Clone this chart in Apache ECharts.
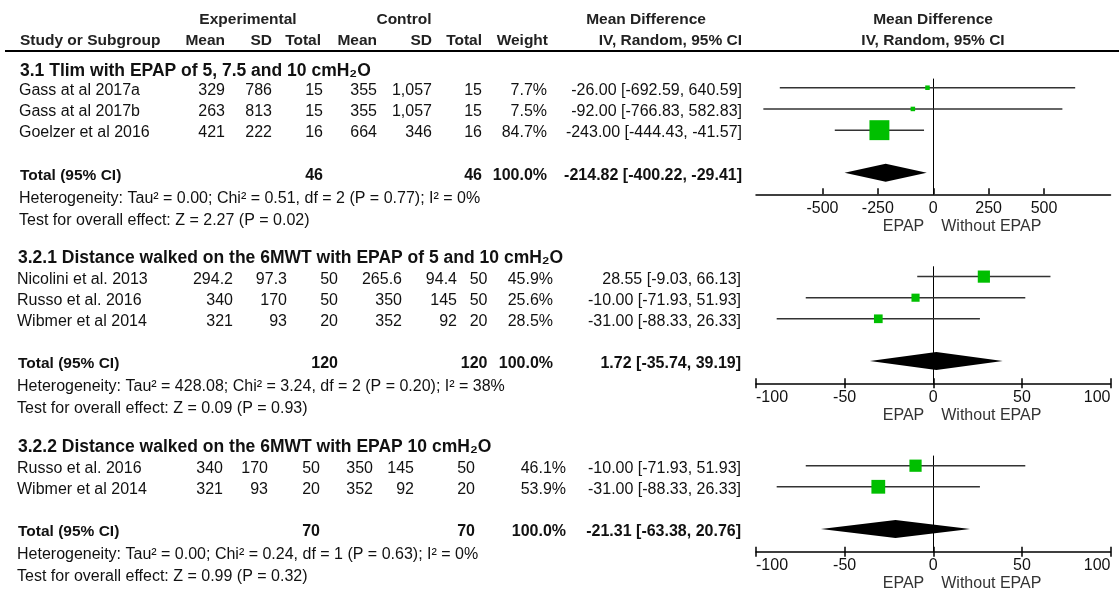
<!DOCTYPE html>
<html>
<head>
<meta charset="utf-8">
<script src="https://cdn.jsdelivr.net/npm/echarts@6/dist/echarts.min.js"></script>
<style>
html,body{margin:0;padding:0;background:#fff;}
#chart{width:1119px;height:590px;}
</style>
</head>
<body>
<div id="chart"></div>
<script>
// ---------------- data ----------------
const titles = [
  '3.1 Tlim with EPAP of 5, 7.5 and 10 cmH\u2082O',
  '3.2.1 Distance walked on the 6MWT with EPAP of 5 and 10 cmH\u2082O',
  '3.2.2 Distance walked on the 6MWT with EPAP 10 cmH\u2082O'
];
// 3.1
const studies1 = ['Gass at al 2017a', 'Gass at al 2017b', 'Goelzer et al 2016'];
const expMean1 = [329, 263, 421];
const expSD1 = [786, 813, 222];
const expN1 = [15, 15, 16];
const ctlMean1 = [355, 355, 664];
const ctlSD1 = [1057, 1057, 346];
const ctlN1 = [15, 15, 16];
const weight1 = [7.7, 7.5, 84.7];
const md1 = [-26.00, -92.00, -243.00];
const lo1 = [-692.59, -766.83, -444.43];
const hi1 = [640.59, 582.83, -41.57];
// 3.2.1
const studies2 = ['Nicolini et al. 2013', 'Russo et al. 2016', 'Wibmer et al 2014'];
const expMean2 = [294.2, 340, 321];
const expSD2 = [97.3, 170, 93];
const expN2 = [50, 50, 20];
const ctlMean2 = [265.6, 350, 352];
const ctlSD2 = [94.4, 145, 92];
const ctlN2 = [50, 50, 20];
const weight2 = [45.9, 25.6, 28.5];
const md2 = [28.55, -10.00, -31.00];
const lo2 = [-9.03, -71.93, -88.33];
const hi2 = [66.13, 51.93, 26.33];
// 3.2.2
const studies3 = ['Russo et al. 2016', 'Wibmer et al 2014'];
const expMean3 = [340, 321];
const expSD3 = [170, 93];
const expN3 = [50, 20];
const ctlMean3 = [350, 352];
const ctlSD3 = [145, 92];
const ctlN3 = [50, 20];
const weight3 = [46.1, 53.9];
const md3 = [-10.00, -31.00];
const lo3 = [-71.93, -88.33];
const hi3 = [51.93, 26.33];
// pooled totals (one per subgroup)
const totalExpN = [46, 120, 70];
const totalCtlN = [46, 120, 70];
const totalWeight = [100.0, 100.0, 100.0];
const totalMd = [-214.82, 1.72, -21.31];
const totalLo = [-400.22, -35.74, -63.38];
const totalHi = [-29.41, 39.19, 20.76];
const heterogeneity = [
  'Heterogeneity: Tau\u00b2 = 0.00; Chi\u00b2 = 0.51, df = 2 (P = 0.77); I\u00b2 = 0%',
  'Heterogeneity: Tau\u00b2 = 428.08; Chi\u00b2 = 3.24, df = 2 (P = 0.20); I\u00b2 = 38%',
  'Heterogeneity: Tau\u00b2 = 0.00; Chi\u00b2 = 0.24, df = 1 (P = 0.63); I\u00b2 = 0%'
];
const overallEffect = [
  'Test for overall effect: Z = 2.27 (P = 0.02)',
  'Test for overall effect: Z = 0.09 (P = 0.93)',
  'Test for overall effect: Z = 0.99 (P = 0.32)'
];
// axes
const axisRange1 = [-800, 800];
const tickLabels1 = [-500, -250, 0, 250, 500];
const axisRange23 = [-100, 100];
const tickStep23 = 50;
const favourLeft = 'EPAP';
const favourRight = 'Without EPAP';

// ---------------- assemble ----------------
const panels = [
  {studies: studies1, expMean: expMean1, expSD: expSD1, expN: expN1, ctlMean: ctlMean1, ctlSD: ctlSD1, ctlN: ctlN1, weight: weight1, md: md1, lo: lo1, hi: hi1},
  {studies: studies2, expMean: expMean2, expSD: expSD2, expN: expN2, ctlMean: ctlMean2, ctlSD: ctlSD2, ctlN: ctlN2, weight: weight2, md: md2, lo: lo2, hi: hi2},
  {studies: studies3, expMean: expMean3, expSD: expSD3, expN: expN3, ctlMean: ctlMean3, ctlSD: ctlSD3, ctlN: ctlN3, weight: weight3, md: md3, lo: lo3, hi: hi3}
];

// layout (pixels)
const FF = '"Liberation Sans", Arial, "DejaVu Sans", sans-serif';
const GRID_LEFT = 756, GRID_W = 354.5;
const layout = [
  {top: 79, axisY: 194.3, yMin: -0.41, yMax: 5.02, titleY: 71.5, nameX: 19, cols: [225, 272, 323, 377, 432, 482, 547], ciX: 742},
  {top: 266.7, axisY: 383.3, yMin: -0.47, yMax: 5.06, titleY: 258.5, nameX: 17, cols: [233, 287, 338, 402, 457, 487.5, 553], ciX: 741},
  {top: 456, axisY: 551.7, yMin: -0.46, yMax: 4.08, titleY: 447.5, nameX: 17, cols: [223, 268, 320, 373, 414, 475, 566], ciX: 741}
];
const GREEN = '#00bf00';
const CI_COLOR = '#333333';
const boxSize = w => 3 + 0.2 * w;

function fmtNum(n) { return n.toLocaleString('en-US', {maximumFractionDigits: 2}); }
function fmtCI(m, l, h) { return m.toFixed(2) + ' [' + l.toFixed(2) + ', ' + h.toFixed(2) + ']'; }

const grids = [], xAxes = [], yAxes = [], series = [];
panels.forEach((p, i) => {
  const L = layout[i];
  grids.push({left: GRID_LEFT, width: GRID_W, top: L.top, height: L.axisY - L.top, containLabel: false, outerBoundsMode: 'none'});
  yAxes.push({
    gridIndex: i, type: 'value', inverse: true, min: L.yMin, max: L.yMax,
    axisLine: {show: true, onZero: true, lineStyle: {color: '#000', width: 1}},
    axisTick: {show: false}, axisLabel: {show: false}, splitLine: {show: false}
  });
});
// panel 1 axis
xAxes.push({
  gridIndex: 0, type: 'value', min: axisRange1[0], max: axisRange1[1], position: 'bottom',
  axisLine: {onZero: false, lineStyle: {color: '#000', width: 1.5}},
  axisTick: {inside: true, length: 6, customValues: tickLabels1, lineStyle: {color: '#000', width: 1.5}},
  axisLabel: {customValues: tickLabels1, margin: 6, color: '#111', fontSize: 16, fontFamily: FF},
  splitLine: {show: false}
});
// panels 2,3: one axis with outside ticks + labels, one with inside ticks
[1, 2].forEach(gi => {
  xAxes.push({
    gridIndex: gi, type: 'value', min: axisRange23[0], max: axisRange23[1], interval: tickStep23, position: 'bottom',
    axisLine: {onZero: false, lineStyle: {color: '#000', width: 1.5}},
    axisTick: {inside: false, length: 5, lineStyle: {color: '#000', width: 1.5}},
    axisLabel: {margin: 6, color: '#111', fontSize: 16, fontFamily: FF, showMinLabel: true, showMaxLabel: true,
                hideOverlap: false, alignMinLabel: 'left', alignMaxLabel: 'right'},
    splitLine: {show: false}
  });
});
[1, 2].forEach(gi => {
  xAxes.push({
    gridIndex: gi, type: 'value', min: axisRange23[0], max: axisRange23[1], interval: tickStep23, position: 'bottom', offset: 0,
    axisLine: {show: false, onZero: false},
    axisTick: {inside: true, length: 5, lineStyle: {color: '#000', width: 1.5}},
    axisLabel: {show: false}, splitLine: {show: false}
  });
});
const xAxisOfPanel = [0, 1, 2];

panels.forEach((p, i) => {
  const nStud = p.studies.length;
  series.push({
    type: 'custom', name: 'studies' + i, xAxisIndex: xAxisOfPanel[i], yAxisIndex: i, clip: false, z: 5,
    encode: {x: [0, 2, 3], y: 1},
    data: p.md.map((m, k) => [m, k, p.lo[k], p.hi[k], p.weight[k]]),
    renderItem: function (params, api) {
      const y = api.value(1);
      const c = api.coord([api.value(0), y]);
      const a = api.coord([api.value(2), y]);
      const b = api.coord([api.value(3), y]);
      const s = boxSize(api.value(4));
      return {type: 'group', children: [
        {type: 'line', shape: {x1: a[0], y1: a[1], x2: b[0], y2: b[1]}, style: {stroke: CI_COLOR, lineWidth: 1.5}},
        {type: 'rect', shape: {x: c[0] - s / 2, y: c[1] - s / 2, width: s, height: s}, style: {fill: GREEN}}
      ]};
    }
  });
  series.push({
    type: 'custom', name: 'total' + i, xAxisIndex: xAxisOfPanel[i], yAxisIndex: i, clip: false, z: 5,
    encode: {x: [0, 2, 3], y: 1},
    data: [[totalMd[i], nStud + 1, totalLo[i], totalHi[i]]],
    renderItem: function (params, api) {
      const y = api.value(1);
      const c = api.coord([api.value(0), y]);
      const a = api.coord([api.value(2), y]);
      const b = api.coord([api.value(3), y]);
      const h = 9;
      return {type: 'polygon', shape: {points: [[a[0], a[1]], [c[0], c[1] - h], [b[0], b[1]], [c[0], c[1] + h]]}, style: {fill: '#000'}};
    }
  });
});

const chart = echarts.init(document.getElementById('chart'), null, {renderer: 'canvas'});
chart.setOption({
  backgroundColor: '#fff',
  animation: false,
  grid: grids, xAxis: xAxes, yAxis: yAxes, series: series
});

// ---------------- table text ----------------
const g = [];
const REG = '16px ' + FF, BOLD = 'bold 15.5px ' + FF, BOLDN = 'bold 16px ' + FF, TITLE = 'bold 17.5px ' + FF;
function T(x, y, text, font, align, fill) {
  g.push({type: 'text', x: x, y: y, silent: true,
    style: {text: text, font: font || REG, fill: fill || '#111', align: align || 'left', verticalAlign: 'middle',
            textAlign: align || 'left', textVerticalAlign: 'middle'}});
}
// header
const H = '#222';
T(248, 19.5, 'Experimental', BOLD, 'center', H);
T(404, 19.5, 'Control', BOLD, 'center', H);
T(646, 19.5, 'Mean Difference', BOLD, 'center', H);
T(933, 19.5, 'Mean Difference', BOLD, 'center', H);
T(20, 40.5, 'Study or Subgroup', BOLD, 'left', H);
const hdr = ['Mean', 'SD', 'Total', 'Mean', 'SD', 'Total', 'Weight'];
const hdrX = [225, 272, 321, 377, 432, 482, 548];
hdr.forEach((t, k) => T(hdrX[k], 40.5, t, BOLD, 'right', H));
T(742, 40.5, 'IV, Random, 95% CI', BOLD, 'right', H);
T(933, 40.5, 'IV, Random, 95% CI', BOLD, 'center', H);
g.push({type: 'line', silent: true, shape: {x1: 5, y1: 51, x2: 1119, y2: 51}, style: {stroke: '#000', lineWidth: 2}});

panels.forEach((p, i) => {
  const L = layout[i];
  const rowY = r => chart.convertToPixel({gridIndex: i}, [0, r])[1] + 2.7;
  T(L.nameX + 1, L.titleY, titles[i], TITLE, 'left', '#111');
  p.studies.forEach((s, k) => {
    const y = rowY(k);
    T(L.nameX, y, s);
    const vals = [fmtNum(p.expMean[k]), fmtNum(p.expSD[k]), fmtNum(p.expN[k]), fmtNum(p.ctlMean[k]), fmtNum(p.ctlSD[k]), fmtNum(p.ctlN[k]), p.weight[k].toFixed(1) + '%'];
    vals.forEach((v, c) => T(L.cols[c], y, v, REG, 'right'));
    T(L.ciX, y, fmtCI(p.md[k], p.lo[k], p.hi[k]), REG, 'right');
  });
  const ty = rowY(p.studies.length + 1);
  T(L.nameX + 1, ty, 'Total (95% CI)', BOLD);
  T(L.cols[2], ty, String(totalExpN[i]), BOLDN, 'right');
  T(L.cols[5], ty, String(totalCtlN[i]), BOLDN, 'right');
  T(L.cols[6], ty, totalWeight[i].toFixed(1) + '%', BOLDN, 'right');
  T(L.ciX, ty, fmtCI(totalMd[i], totalLo[i], totalHi[i]), BOLDN, 'right');
  T(L.nameX, ty + 23.4, heterogeneity[i]);
  T(L.nameX, ty + 45, overallEffect[i]);
  // favours labels under axis
  const x0 = chart.convertToPixel({xAxisIndex: xAxisOfPanel[i]}, 0);
  T(x0 - 9, L.axisY + 32, favourLeft, REG, 'right', '#333');
  T(x0 + 8, L.axisY + 32, favourRight, REG, 'left', '#333');
});

chart.setOption({graphic: {elements: g}});
</script>
</body>
</html>
